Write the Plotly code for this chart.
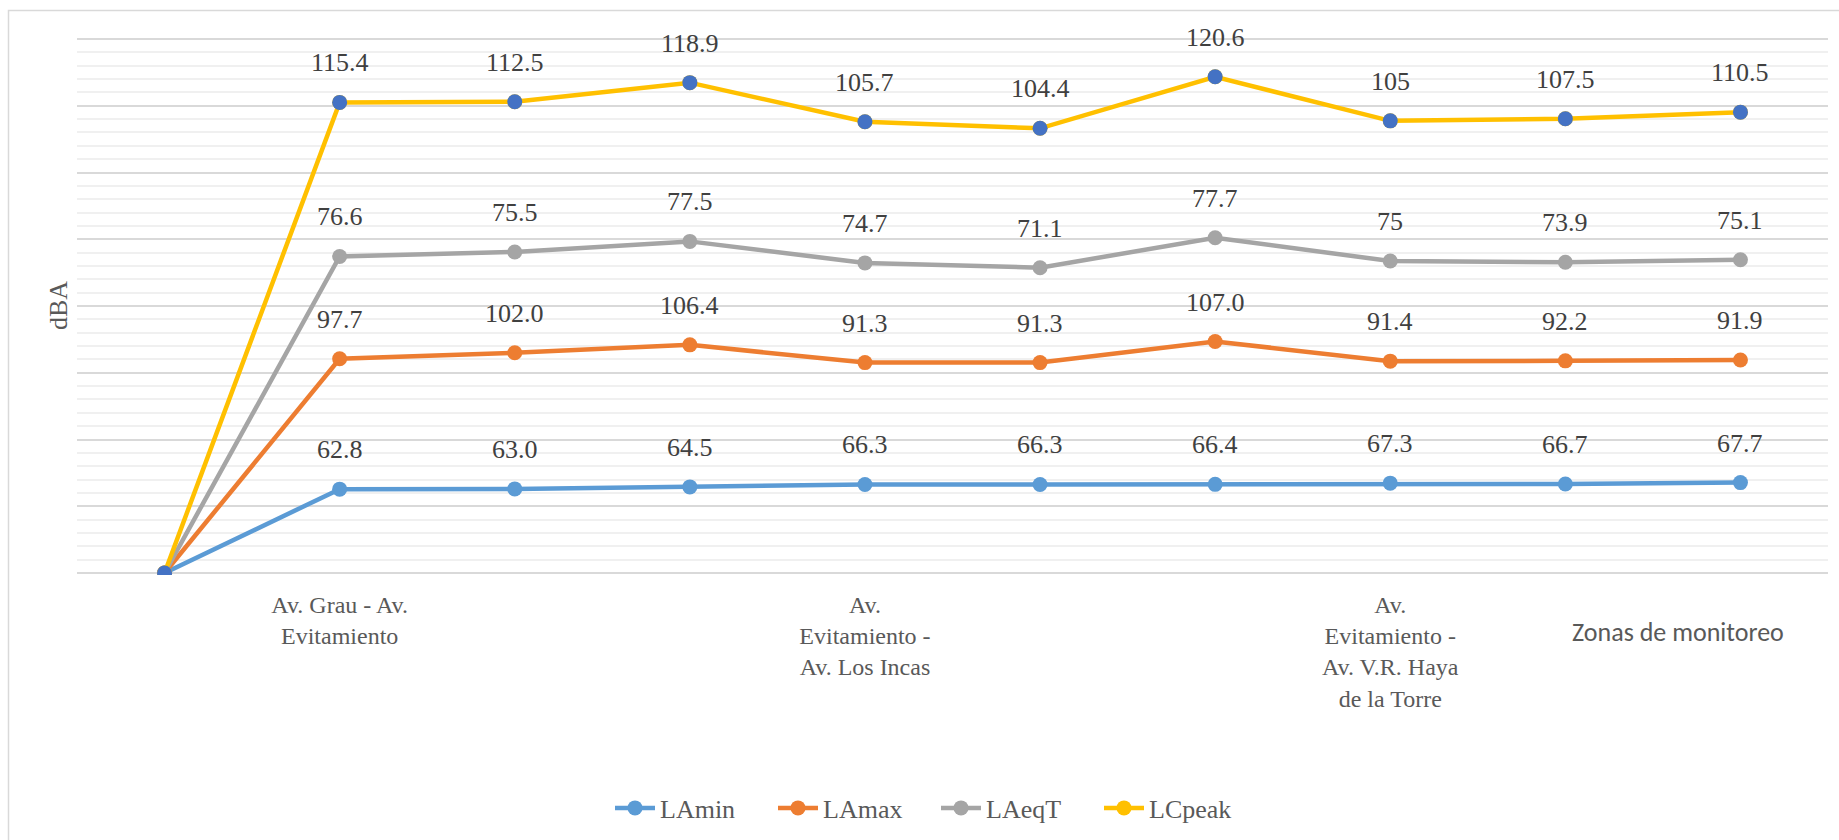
import numpy as np
import plotly.graph_objects as go

# ---------------- data ----------------
x_idx = list(range(10))
tick_pos = [1, 4, 7]
tick_labels = ["Av. Grau - Av.<br>Evitamiento",
               "Av.<br>Evitamiento -<br>Av. Los Incas",
               "Av.<br>Evitamiento -<br>Av. V.R. Haya<br>de la Torre"]

series_names = ["LAmin", "LAmax", "LAeqT", "LCpeak"]
LAmin = [0, 62.8, 63.0, 64.5, 66.3, 66.3, 66.4, 67.3, 66.7, 67.7]
LAmax = [0, 97.7, 102.0, 106.4, 91.3, 91.3, 107.0, 91.4, 92.2, 91.9]
LAeqT = [0, 76.6, 75.5, 77.5, 74.7, 71.1, 77.7, 75, 73.9, 75.1]
LCpeak = [0, 115.4, 112.5, 118.9, 105.7, 104.4, 120.6, 105, 107.5, 110.5]
label_formats = ["{:.1f}", "{:.1f}", "{:g}", "{:g}"]

colors = ["#5B9BD5", "#ED7D31", "#A5A5A5", "#FFC000"]
peak_marker_color = "#4472C4"
SERIF = "Liberation Serif"

# ---------------- figure ----------------
W, H = 1839, 840
ML, MR, MT, MB = 77, 11, 37, 265
PW, PH = W - ML - MR, H - MT - MB

def px_x(p):
    return (p - ML) / PW

def px_y(p):
    return (H - MB - p) / PH

fig = go.Figure()
values = [LAmin, LAmax, LAeqT, LCpeak]
cum = np.cumsum(np.array(values, dtype=float), axis=0)

annotations = []
for k, (name, vals) in enumerate(zip(series_names, values)):
    fig.add_trace(go.Scatter(
        x=x_idx, y=cum[k], name=name, mode="lines+markers",
        line=dict(color=colors[k], width=4.5),
        marker=dict(color=colors[k], size=15),
        hovertext=[str(v) for v in vals], hoverinfo="text+name",
    ))
    for i, v in enumerate(vals):
        if i == 0:
            continue
        annotations.append(dict(
            x=x_idx[i], y=cum[k][i], xref="x", yref="y",
            text=label_formats[k].format(v), showarrow=False,
            yanchor="bottom", xanchor="center", yshift=23,
            font=dict(family=SERIF, size=26, color="#404040"),
        ))

# blue markers on LCpeak (legend keeps the yellow marker)
fig.add_trace(go.Scatter(
    x=x_idx, y=cum[3], mode="markers", showlegend=False,
    marker=dict(color=peak_marker_color, size=15), hoverinfo="skip",
))

annotations.append(dict(
    x=px_x(58), y=px_y(306), xref="paper", yref="paper", text="dBA",
    textangle=-90, showarrow=False, xanchor="center", yanchor="middle",
    font=dict(family=SERIF, size=26, color="#595959"),
))
annotations.append(dict(
    x=px_x(1678), y=px_y(632), xref="paper", yref="paper",
    text="Zonas de monitoreo", showarrow=False,
    xanchor="center", yanchor="middle",
    font=dict(family="Carlito", size=26, color="#595959"),
))

fig.update_layout(
    width=W, height=H,
    margin=dict(l=ML, r=MR, t=MT, b=MB, autoexpand=False),
    paper_bgcolor="white", plot_bgcolor="white",
    showlegend=True,
    legend=dict(
        orientation="h", x=px_x(936), y=px_y(808),
        xanchor="center", yanchor="middle",
        font=dict(family=SERIF, size=26, color="#595959"),
        itemwidth=40, entrywidth=108, traceorder="normal",
    ),
    annotations=annotations,
    shapes=[dict(
        type="rect", xref="paper", yref="paper",
        x0=px_x(8.5), x1=px_x(1850), y0=px_y(850), y1=px_y(10.5),
        line=dict(color="#D9D9D9", width=1.5), layer="below",
    )],
    xaxis=dict(
        range=[-0.5, 9.5], tickmode="array", tickvals=tick_pos,
        ticktext=tick_labels, showgrid=False, zeroline=False,
        showline=False, ticks="", automargin=False,
        ticklabelstandoff=13,
        tickfont=dict(family=SERIF, size=24, color="#595959"),
    ),
    yaxis=dict(
        range=[-1.5, 401.5], tick0=0, dtick=50, showticklabels=False,
        showgrid=True, gridcolor="#D9D9D9", gridwidth=1.5,
        zeroline=False, showline=False, ticks="", automargin=False,
        minor=dict(tick0=0, dtick=10, showgrid=True, gridcolor="#F0F0F0", gridwidth=1.5),
    ),
)

fig.write_html("out.html")
